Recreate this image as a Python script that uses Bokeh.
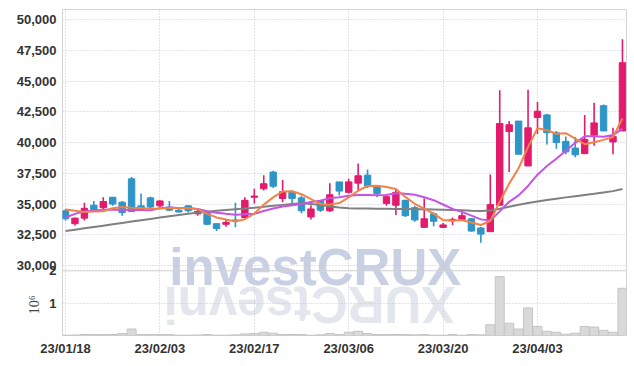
import numpy as np
from bokeh.plotting import figure
from bokeh.models import Range1d, FixedTicker, CustomJSTickFormatter, Span, LinearAxis
from bokeh.embed import file_html
from bokeh.resources import INLINE
from bokeh.core.properties import value

# ---------------- data (trading-day index 0..59) ----------------
opens = [34450, 33400, 33850, 34900, 34700, 35550, 35150, 37050, 34850, 35500,
         34850, 34750, 34500, 34850, 34200, 34300, 33400, 33350, 33700, 33900,
         35550, 36250, 37600, 35450, 35950, 35500, 33950, 35250, 34450, 36800,
         35950, 36700, 37350, 36450, 35050, 34900, 35300, 34700, 33100, 34200,
         33100, 33650, 33750, 33800, 33050, 32750, 34900, 40900, 41750, 38100,
         42050, 42250, 40800, 40100, 39550, 39100, 40600, 43000, 40050, 40950]
highs = [34600, 33900, 35100, 35250, 35550, 35550, 35250, 37200, 35850, 35600,
         35300, 35250, 34650, 34900, 34550, 34450, 33400, 33750, 35100, 35550,
         36250, 37350, 37700, 36950, 36100, 35700, 34900, 35350, 36700, 36800,
         37050, 38300, 37800, 36450, 35600, 36150, 35350, 34850, 35450, 34300,
         33450, 33900, 34300, 33850, 33150, 37400, 44250, 41750, 41750, 44300,
         43300, 42350, 40950, 40500, 40450, 42250, 43250, 43100, 41200, 48400]
lows = [33650, 33250, 33650, 34450, 34600, 34850, 34050, 34350, 34450, 34650,
        34700, 34450, 34300, 34300, 34050, 33300, 32800, 33150, 33100, 33800,
        35050, 36100, 36300, 35150, 34850, 34250, 33750, 34350, 34350, 35700,
        35850, 36150, 36300, 35550, 34850, 34100, 33950, 33550, 33050, 33200,
        33050, 33300, 33650, 32750, 31850, 32750, 34900, 37600, 39050, 38100,
        40700, 39850, 39500, 39050, 38800, 39100, 39750, 40950, 39050, 40950]
closes = [33800, 33850, 34650, 34550, 35200, 35000, 34300, 34400, 34500, 34750,
          35250, 34500, 34350, 34450, 34400, 33350, 33000, 33500, 33650, 35300,
          35650, 36650, 36450, 36000, 35450, 34450, 34600, 34500, 35750, 36050,
          36800, 37300, 36450, 35850, 35600, 35950, 34050, 33700, 33800, 33600,
          33300, 33750, 34050, 32800, 32550, 34950, 41550, 41450, 39050, 41200,
          42550, 40800, 40000, 39250, 39000, 40250, 41600, 40950, 40500, 46500]
volumes = [10000, 15000, 30000, 30000, 30000, 30000, 60000, 200000, 30000, 30000,
           30000, 30000, 10000, 10000, 15000, 30000, 10000, 10000, 20000, 50000,
           60000, 100000, 70000, 30000, 30000, 30000, 10000, 20000, 60000, 30000,
           100000, 130000, 60000, 30000, 30000, 30000, 30000, 20000, 30000, 10000,
           10000, 30000, 10000, 30000, 20000, 330000, 1820000, 380000, 200000, 850000,
           280000, 130000, 100000, 40000, 70000, 280000, 260000, 160000, 100000, 1460000]
ma5 = [34550, 34450, 34350, 34400, 34410, 34660, 34750, 34690, 34680, 34590,
       34640, 34680, 34670, 34660, 34580, 34200, 33910, 33740, 33580, 33760,
       34220, 34950, 35540, 36020, 36040, 35800, 35390, 35010, 34950, 35080,
       35540, 36080, 36470, 36480, 36390, 36230, 35580, 35020, 34620, 34220,
       33690, 33630, 33700, 33500, 33290, 33620, 35180, 36660, 37910, 39650,
       41160, 41010, 40720, 40760, 40320, 39870, 40030, 40220, 40460, 41960]
ma10 = [33900, 34200, 34400, 34480, 34530, 34550, 34540, 34520, 34510, 34500,
        34650, 34710, 34680, 34670, 34590, 34420, 34290, 34200, 34120, 34170,
        34210, 34430, 34640, 34800, 34900, 35010, 35170, 35270, 35480, 35560,
        35670, 35730, 35740, 35720, 35730, 35880, 35830, 35750, 35550, 35310,
        34960, 34600, 34360, 34060, 33750, 33650, 34400, 35180, 35700, 36470,
        37390, 38090, 38690, 39340, 39980, 40510, 40520, 40470, 40610, 41140]
ma60 = [32800, 32910, 33020, 33130, 33240, 33350, 33460, 33570, 33680, 33790,
        33900, 34000, 34100, 34200, 34300, 34380, 34450, 34520, 34580, 34640,
        34700, 34780, 34850, 34930, 35000, 35060, 35000, 34920, 34800, 34720,
        34660, 34640, 34630, 34620, 34610, 34600, 34590, 34580, 34570, 34550,
        34530, 34510, 34490, 34460, 34440, 34470, 34620, 34780, 34940, 35080,
        35210, 35320, 35430, 35540, 35640, 35740, 35830, 35940, 36050, 36230]
price_ticks = [30000, 32500, 35000, 37500, 40000, 42500, 45000, 47500, 50000]
volume_ticks = [1000000, 2000000]
volume_unit_label = "10⁶"
date_tick_index = [0, 10, 20, 30, 40, 50]
date_tick_labels = ["23/01/18", "23/02/03", "23/02/17", "23/03/06", "23/03/20", "23/04/03"]
watermark = "investCRUX"

# ---------------- layout / style ----------------
UP, DOWN = "#e31b6d", "#2e95c7"
P_LO, P_HI = 24300, 50830
V_LO, V_HI = 0, 10.08e6
PX_PRICE = 80.645            # price units per screen pixel
WM_X, WM_Y = 11.0, 29800     # watermark anchor (left, baseline)
WM_W = 30.3                  # watermark width in index units
UNIT_LABEL_POS = 0.95e6      # vertical position of the "10⁶" unit label (volume units)

idx = list(range(len(closes)))
colors = [UP if c >= o else DOWN for o, c in zip(opens, closes)]
body_top = [max(o, c) for o, c in zip(opens, closes)]
body_bot = [min(o, c) for o, c in zip(opens, closes)]

p = figure(width=628, height=358, x_range=Range1d(-0.32, 59.43),
           y_range=Range1d(P_LO, P_HI), output_backend="svg",
           toolbar_location=None, min_border_left=62, min_border_right=2,
           min_border_top=9, min_border_bottom=20)
p.extra_y_ranges = {"vol": Range1d(V_LO, V_HI)}
p.outline_line_color = "#d4d4d4"
p.background_fill_color = "white"

def vol_to_price(v):
    return P_LO + (v - V_LO) / (V_HI - V_LO) * (P_HI - P_LO)

vol_tick_pos = [vol_to_price(v) for v in volume_ticks]
ya = p.yaxis[0]
ya.ticker = FixedTicker(ticks=price_ticks + vol_tick_pos)
ya.formatter = CustomJSTickFormatter(args=dict(plo=P_LO, phi=P_HI, vlo=V_LO, vhi=V_HI, lim=max(vol_tick_pos) + 1), code="""
if (tick < lim) { return String(Math.round((tick - plo) / (phi - plo) * (vhi - vlo) / 1e6)); }
return String(Math.round(tick)).replace(/\\B(?=(\\d{3})+(?!\\d))/g, ",");
""")
xa = p.xaxis[0]
xa.ticker = FixedTicker(ticks=date_tick_index)
xa.formatter = CustomJSTickFormatter(args=dict(ti=date_tick_index, tl=date_tick_labels),
                                     code="return tl[ti.indexOf(Math.round(tick))];")

# unit label of the volume panel ("10⁶"), as an outer left axis with one label
va = LinearAxis(y_range_name="vol", ticker=FixedTicker(ticks=[UNIT_LABEL_POS]),
                formatter=CustomJSTickFormatter(args=dict(t=volume_unit_label), code="return t;"))
p.add_layout(va, "left")

for ax in (xa, ya, va):
    ax.axis_line_color = None
    ax.major_tick_line_color = None
    ax.minor_tick_line_color = None
    ax.major_tick_out = 0
    ax.major_tick_in = 0
    ax.minor_tick_out = 0
    ax.minor_tick_in = 0
    ax.major_label_text_font = "Liberation Sans"
    ax.major_label_text_font_style = "bold"
    ax.major_label_text_font_size = "13px"
    ax.major_label_text_color = "#333333"
xa.major_label_standoff = 5
ya.major_label_standoff = 6
va.major_label_orientation = "vertical"
va.major_label_standoff = -29
va.major_label_text_font = "Liberation Serif"
va.major_label_text_font_style = "normal"
va.major_label_text_font_size = "14px"
va.major_label_text_color = "#444444"

for g in (p.xgrid[0], p.ygrid[0]):
    g.grid_line_color = "#c3c8d8"
    g.grid_line_dash = "1 2"
    g.grid_line_width = 1

p.add_layout(Span(location=volume_ticks[-1], y_range_name="vol", dimension="width",
                  line_color="#d4d4d4", line_width=1))

# watermark (behind grid) and its reflection
p.text(x=[WM_X], y=[WM_Y], text=[watermark], text_font=value("Liberation Sans"),
       text_font_style="bold", text_font_size="51px", text_color="#c9d0e4",
       text_align="left", text_baseline="alphabetic", level="image")
p.text(x=[WM_X + WM_W], y=[WM_Y - 37 * PX_PRICE], text=[watermark[::-1]],
       text_font=value("Liberation Sans"), text_font_style="bold", text_font_size="51px",
       text_color="#e4e6ee", text_align="left", text_baseline="alphabetic",
       angle=np.pi, level="image")

# volume
p.vbar(x=idx, top=volumes, bottom=0, width=0.95, y_range_name="vol",
       fill_color="#d9d9d9", line_color="#c4c4c4", line_width=1)

# candles
p.segment(x0=idx, y0=lows, x1=idx, y1=highs, line_color=colors, line_width=1.6)
p.vbar(x=idx, top=body_top, bottom=body_bot, width=0.68,
       fill_color=colors, line_color=colors, line_width=1)

# moving averages
p.line(idx, ma60, line_color="#808080", line_width=2)
p.line(idx, ma10, line_color="#c653e4", line_width=2)
p.line(idx, ma5, line_color="#f0834a", line_width=2)

open("out.html", "w").write(file_html(p, INLINE))
